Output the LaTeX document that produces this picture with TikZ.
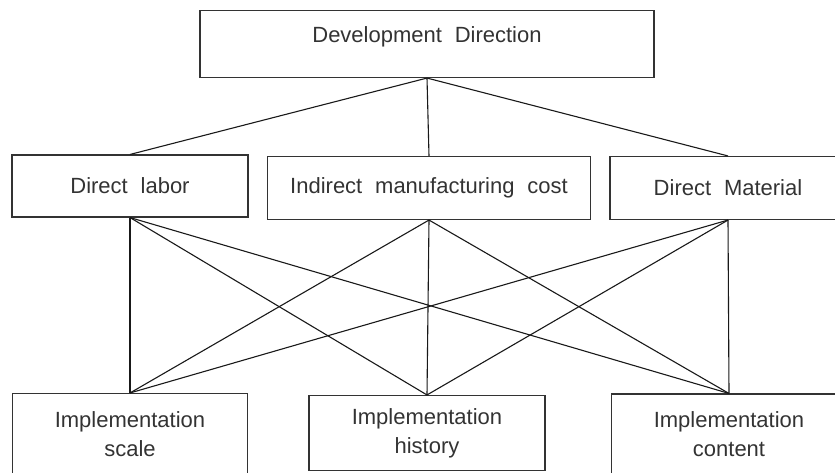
\documentclass[tikz,border=0pt]{standalone}
\usepackage{fontspec}
\setmainfont{Liberation Sans}[WordSpace=2.1]
\usepackage{tikz}

\tikzset{
    box/.style={draw=black!80, line width=1.1pt, rectangle, inner sep=0pt, text=black!80, align=center,
        font=\fontsize{22}{29}\selectfont},
    link/.style={black!90, line width=1.1pt}
}

\begin{document}
\begin{tikzpicture}[x=1pt, y=-1pt]
        \useasboundingbox (0, 0) rectangle (835, 472);
        \clip (0, 0) rectangle (835, 472);
        % top level
        \node[box, minimum width=454pt, minimum height=67pt, text depth=18pt] (dev) at (427, 44) {Development Direction};
        % cost items
        \node[box, minimum width=236pt, minimum height=62pt] (labor) at (130, 186) {Direct labor};
        \node[box, minimum width=323pt, minimum height=63pt] (indirect) at (429, 188) {Indirect manufacturing cost};
        \node[box, minimum width=236pt, minimum height=63pt] (material) at (728, 188) {Direct Material};
        % implementation
        \node[box, minimum width=235pt, minimum height=81pt] (scale) at (130, 434) {Implementation\\scale};
        \node[box, minimum width=236pt, minimum height=75pt] (history) at (427, 433) {Implementation\\history};
        \node[box, minimum width=235pt, minimum height=80pt] (content) at (729, 434) {Implementation\\content};
        \draw[link] (dev.south) -- (labor.north);
        \draw[link] (dev.south) -- (indirect.north);
        \draw[link] (dev.south) -- (material.north);
        \foreach \a in {labor, indirect, material}
            \foreach \b in {scale, history, content}
                \draw[link] (\a.south) -- (\b.north);
    \end{tikzpicture}
\end{document}
